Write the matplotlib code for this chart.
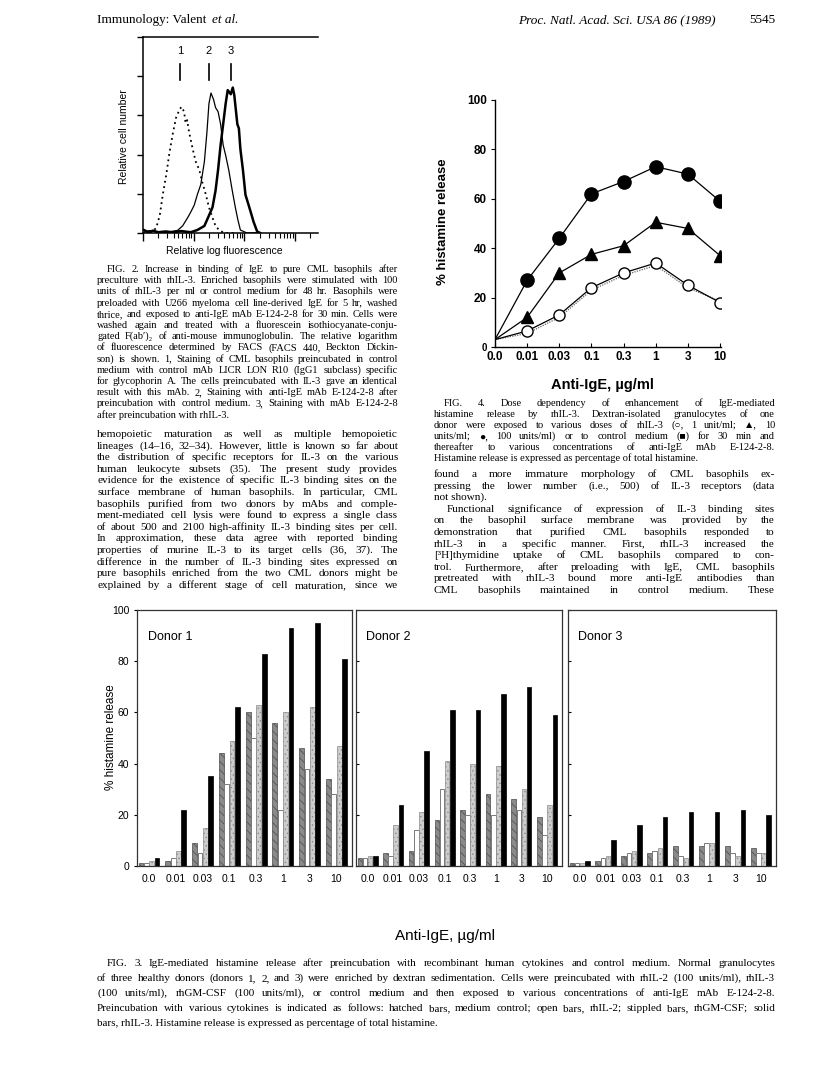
import math
import matplotlib
matplotlib.use('Agg')
import matplotlib.pyplot as plt

plt.rcParams['hatch.linewidth'] = 0.5

# ---------------- data ----------------
# Fig. 2 histograms (x = log decades of fluorescence, y = relative cell number)
c1_x = [0.03, 0.16, 0.26, 0.33, 0.39, 0.46, 0.52, 0.59, 0.65, 0.72, 0.76, 0.81, 0.84, 0.87, 0.91,
        0.98, 1.04, 1.11, 1.17, 1.24, 1.30, 1.37, 1.43, 1.50, 1.60, 1.79]
c1_y = [1, 0.4, 2.5, 9, 19.5, 30, 40.7, 51, 58.7, 63, 64.4, 61.9, 56, 57.6, 51.3,
        42.8, 36.4, 32.2, 25.8, 19.5, 13.1, 7.8, 3.6, 1.5, 0, 0]
c2_x = [0.03, 0.12, 0.23, 0.35, 0.49, 0.6, 0.68, 0.78, 0.88, 0.94, 1.01, 1.07, 1.14, 1.21, 1.26,
        1.30, 1.34, 1.39, 1.43, 1.48, 1.53, 1.58, 1.63, 1.69, 1.76, 1.82, 1.87, 1.92, 2.05, 2.31]
c2_y = [0.4, 1.2, 0.8, 0.3, 0.4, 1.0, 1.3, 3.6, 7.8, 10.6, 14.2, 19.5, 24.8, 36.4, 51.3,
        66, 71.4, 68.2, 64, 61.9, 55.5, 44.9, 39.6, 32.2, 21.6, 13.1, 6.8, 1.5, 0, 0.2]
c3_x = [0.02, 0.1, 0.2, 0.3, 0.45, 0.6, 0.75, 0.94, 1.07, 1.21, 1.30, 1.37, 1.43, 1.48, 1.53,
        1.58, 1.63, 1.67, 1.73, 1.77, 1.80, 1.86, 1.89, 1.92, 1.97, 2.02, 2.07, 2.12, 2.18, 2.25, 2.31]
c3_y = [1.5, 0.5, 1.2, 0.4, 0.8, 0.3, 1.0, 0.4, 1.5, 3.6, 8.9, 13.1, 21.6, 32.2, 44.9,
        55.5, 66.1, 72.9, 70.8, 74.2, 70.3, 55.5, 53.4, 42.8, 32.2, 19.5, 15.3, 11, 5.7, 0.8, 0]
peak_x = [0.73, 1.30, 1.73]
peak_names = ['1', '2', '3']

# Fig. 4 dose dependency
conc = ['0.0', '0.01', '0.03', '0.1', '0.3', '1', '3', '10']
il3_100 = [3, 27, 44, 62, 67, 73, 70, 59]
il3_10 = [3, 12, 30, 37.5, 41, 50.5, 48, 37]
il3_1 = [3, 6.5, 13, 24, 30, 34, 25, 18]
control = [3, 5.5, 12, 23, 29, 33, 24, 18.5]

# Fig. 3 bars: hatched (medium), open (rhIL-2), stippled (rhGM-CSF), solid (rhIL-3)
d1_hatched = [1, 2, 9, 44, 60, 56, 46, 34]
d1_open = [1, 3, 5, 32, 50, 22, 38, 28]
d1_stippled = [2, 6, 15, 49, 63, 60, 62, 47]
d1_solid = [3, 22, 35, 62, 83, 93, 95, 81]
d2_hatched = [3, 5, 6, 18, 22, 28, 26, 19]
d2_open = [3, 4, 14, 30, 20, 20, 22, 12]
d2_stippled = [4, 16, 21, 41, 40, 39, 30, 24]
d2_solid = [4, 24, 45, 61, 61, 67, 70, 59]
d3_hatched = [1, 2, 4, 5, 8, 8, 8, 7]
d3_open = [1, 3, 5, 6, 4, 9, 5, 5]
d3_stippled = [1, 4, 6, 7, 3, 9, 4, 5]
d3_solid = [2, 10, 16, 19, 21, 21, 22, 20]
donors = ['Donor 1', 'Donor 2', 'Donor 3']

# ---------------- page setup ----------------
W, H = 816, 1070
fig = plt.figure(figsize=(W / 100, H / 100), dpi=100)
fig.patch.set_facecolor('white')
R = fig.canvas.get_renderer()
SERIF = ['Liberation Serif', 'DejaVu Serif', 'DejaVu Sans']
SANS = ['Liberation Sans', 'DejaVu Sans']


def fx(x):
    return x / W


def fy(y):
    return 1 - y / H


def axes_px(x0, y0, x1, y1):
    return fig.add_axes([x0 / W, 1 - y1 / H, (x1 - x0) / W, (y1 - y0) / H])


def T(x, y, s, **kw):
    kw.setdefault('family', SERIF)
    kw.setdefault('va', 'baseline')
    return fig.text(fx(x), fy(y), s, **kw)


def para(lines, x0, x1, y0, dy, size, ends=(), indents=None):
    indents = indents or {}
    for i, line in enumerate(lines):
        y = y0 + i * dy
        ind = indents.get(i, 0)
        words = line.split()
        if i in ends or len(words) < 2:
            T(x0 + ind, y, line, fontsize=size)
            continue
        fs = size
        objs = [T(0, y, w, fontsize=fs) for w in words]
        ws = [o.get_window_extent(R).width for o in objs]
        avail = x1 - x0 - ind
        if sum(ws) + 2.0 * (len(words) - 1) > avail:
            fs = size * (avail - 2.0 * (len(words) - 1)) / sum(ws)
            for o in objs:
                o.set_fontsize(fs)
            ws = [o.get_window_extent(R).width for o in objs]
        gap = (avail - sum(ws)) / (len(words) - 1)
        x = x0 + ind
        for o, w in zip(objs, ws):
            o.set_x(fx(x))
            x += w + gap


# ---------------- header ----------------
h1 = T(97, 23, 'Immunology: Valent ', fontsize=9.5)
T(97 + h1.get_window_extent(R).width + 2, 23, 'et al.', fontsize=9.5, style='italic')
T(716, 23, 'Proc. Natl. Acad. Sci. USA 86 (1989)', fontsize=9.5, style='italic', ha='right')
T(775, 23, '5545', fontsize=9.5, ha='right')

# ---------------- Fig. 2 ----------------
ax2 = axes_px(143, 37, 318, 233)
ax2.plot(c1_x, c1_y, color='black', lw=1.3, ls=(0, (1, 2)))
ax2.plot(c2_x, c2_y, color='black', lw=0.9)
ax2.plot(c3_x, c3_y, color='black', lw=1.8)
for px, nm in zip(peak_x, peak_names):
    ax2.text(px, 93, nm, ha='center', va='center', fontsize=8, family=SANS)
    ax2.plot([px, px], [78, 86], color='black', lw=1.2)
ax2.set_xlim(0, 3.45)
ax2.set_ylim(0, 100)
ax2.spines['right'].set_visible(False)
ax2.set_yticks([0, 20, 40, 60, 80, 100])
ax2.set_yticklabels([])
ax2.set_xticks([0, 1, 2, 3])
ax2.set_xticklabels([])
minor = [d + math.log10(k) for d in range(4) for k in range(2, 10) if d + math.log10(k) < 3.45]
ax2.set_xticks(minor, minor=True)
ax2.tick_params(axis='x', which='major', length=6, width=1, direction='out')
ax2.tick_params(axis='x', which='minor', length=3.5, width=0.8, direction='out')
ax2.tick_params(axis='y', length=4, width=1, direction='out')
for s in ax2.spines.values():
    s.set_linewidth(1.1)
T(224, 254, 'Relative log fluorescence', fontsize=7.5, family=SANS, ha='center')
T(124, 137, 'Relative cell number', fontsize=7.5, family=SANS, ha='center', va='center',
  rotation=90)

# Fig. 2 caption
cap2 = [
    "FIG. 2.   Increase in binding of IgE to pure CML basophils after",
    "preculture with rhIL-3. Enriched basophils were stimulated with 100",
    "units of rhIL-3 per ml or control medium for 48 hr. Basophils were",
    "preloaded with U266 myeloma cell line-derived IgE for 5 hr, washed",
    "thrice, and exposed to anti-IgE mAb E-124-2-8 for 30 min. Cells were",
    "washed again and treated with a fluorescein isothiocyanate-conju-",
    "gated F(ab′)₂ of anti-mouse immunoglobulin. The relative logarithm",
    "of fluorescence determined by FACS (FACS 440, Beckton Dickin-",
    "son) is shown. 1, Staining of CML basophils preincubated in control",
    "medium with control mAb LICR LON R10 (IgG1 subclass) specific",
    "for glycophorin A. The cells preincubated with IL-3 gave an identical",
    "result with this mAb. 2, Staining with anti-IgE mAb E-124-2-8 after",
    "preincubation with control medium. 3, Staining with mAb E-124-2-8",
    "after preincubation with rhIL-3.",
]
para(cap2, 97, 398, 272, 11.2, 7.5, ends={13}, indents={0: 10})

body_left = [
    "hemopoietic maturation as well as multiple hemopoietic",
    "lineages (14–16, 32–34). However, little is known so far about",
    "the distribution of specific receptors for IL-3 on the various",
    "human leukocyte subsets (35). The present study provides",
    "evidence for the existence of specific IL-3 binding sites on the",
    "surface membrane of human basophils. In particular, CML",
    "basophils purified from two donors by mAbs and comple-",
    "ment-mediated cell lysis were found to express a single class",
    "of about 500 and 2100 high-affinity IL-3 binding sites per cell.",
    "In approximation, these data agree with reported binding",
    "properties of murine IL-3 to its target cells (36, 37). The",
    "difference in the number of IL-3 binding sites expressed on",
    "pure basophils enriched from the two CML donors might be",
    "explained by a different stage of cell maturation, since we",
]
para(body_left, 97, 398, 437, 11.6, 8.1)

# ---------------- Fig. 4 ----------------
ax4 = axes_px(495, 100, 721, 347)
xs = list(range(len(conc)))
ax4.plot(xs, control, color='#666666', lw=0.9, ls=(0, (1, 1)))
ax4.plot(xs, il3_1, color='black', lw=0.9, marker='o', ms=8, mfc='white', mec='black',
         mew=1.0, markevery=list(range(1, 8)))
ax4.plot(xs, il3_10, color='black', lw=0.9, marker='^', ms=8.5, mfc='black', mec='black',
         markevery=list(range(1, 8)))
ax4.plot(xs, il3_100, color='black', lw=0.9, marker='o', ms=9.5, mfc='black', mec='black',
         markevery=list(range(1, 8)))
ax4.set_xlim(0, 7.03)
ax4.set_ylim(0, 100)
ax4.spines['right'].set_visible(False)
ax4.spines['top'].set_visible(False)
ax4.set_yticks([0, 20, 40, 60, 80, 100])
ax4.set_yticklabels(['0', '20', '40', '60', '80', '100'], fontsize=8.5, family=SANS,
                    fontweight='bold')
ax4.get_yticklabels()[0].set_fontsize(7)
ax4.set_xticks(xs)
ax4.set_xticklabels(conc, fontsize=8.5, family=SANS, fontweight='bold')
ax4.tick_params(axis='x', direction='in', length=3, width=0.8, pad=3)
ax4.tick_params(axis='y', direction='out', length=3, width=0.8, pad=3)
for s in ax4.spines.values():
    s.set_linewidth(1.0)
T(443, 222, '% histamine release', fontsize=9.5, family=SANS, fontweight='bold',
  rotation=90, ha='center', va='center')
T(602, 389, 'Anti-IgE, µg/ml', fontsize=10.5, family=SANS, fontweight='bold', ha='center')

cap4 = [
    "FIG. 4.   Dose dependency of enhancement of IgE-mediated",
    "histamine release by rhIL-3. Dextran-isolated granulocytes of one",
    "donor were exposed to various doses of rhIL-3 (○, 1 unit/ml; ▲, 10",
    "units/ml; ●, 100 units/ml) or to control medium (■) for 30 min and",
    "thereafter to various concentrations of anti-IgE mAb E-124-2-8.",
    "Histamine release is expressed as percentage of total histamine.",
]
para(cap4, 434, 775, 406, 11.0, 7.5, ends={5}, indents={0: 10})

body_right = [
    "found a more immature morphology of CML basophils ex-",
    "pressing the lower number (i.e., 500) of IL-3 receptors (data",
    "not shown).",
    "Functional significance of expression of IL-3 binding sites",
    "on the basophil surface membrane was provided by the",
    "demonstration that purified CML basophils responded to",
    "rhIL-3 in a specific manner. First, rhIL-3 increased the",
    "[³H]thymidine uptake of CML basophils compared to con-",
    "trol. Furthermore, after preloading with IgE, CML basophils",
    "pretreated with rhIL-3 bound more anti-IgE antibodies than",
    "CML basophils maintained in control medium. These",
]
para(body_right, 434, 775, 477, 11.6, 8.1, ends={2}, indents={3: 13})

# ---------------- Fig. 3 ----------------
panel_x = [(137, 352), (356, 562), (568, 776)]
series = [
    (d1_hatched, d1_open, d1_stippled, d1_solid),
    (d2_hatched, d2_open, d2_stippled, d2_solid),
    (d3_hatched, d3_open, d3_stippled, d3_solid),
]
styles = [
    dict(color='#8a8a8a', edgecolor='#4a4a4a', hatch='\\\\\\\\', linewidth=0.5),
    dict(color='white', edgecolor='#7a7a7a', linewidth=0.7),
    dict(color='#cdcdcd', edgecolor='#8a8a8a', hatch='....', linewidth=0.5),
    dict(color='black', edgecolor='black', linewidth=0.5),
]
offsets = [-0.3, -0.1, 0.1, 0.3]
bw = 0.18
for p, ((x0, x1), vals, name) in enumerate(zip(panel_x, series, donors)):
    ax = axes_px(x0, 610, x1, 866)
    for off, v, st in zip(offsets, vals, styles):
        ax.bar([i + off for i in xs], v, width=bw, **st)
    ax.set_xlim(-0.45, 7.58)
    ax.set_ylim(0, 100)
    ax.set_xticks(xs)
    ax.set_xticklabels(conc, fontsize=7.5, family=SANS)
    ax.tick_params(axis='x', length=0, pad=6)
    ax.set_yticks([0, 20, 40, 60, 80, 100])
    if p == 0:
        ax.set_yticklabels(['0', '20', '40', '60', '80', '100'], fontsize=7.5, family=SANS)
        ax.tick_params(axis='y', direction='out', length=2.5, width=0.8, pad=3)
    else:
        ax.set_yticklabels([])
        ax.tick_params(axis='y', direction='in', length=2.5, width=0.8)
    for s in ax.spines.values():
        s.set_linewidth(0.9)
        s.set_color('#333333')
    ax.text(0.05, 0.895, name, transform=ax.transAxes, fontsize=9, family=SANS,
            va='center', ha='left')

T(111, 737, '% histamine release', fontsize=8.5, family=SANS, rotation=90,
  ha='center', va='center')
T(445, 940, 'Anti-IgE, µg/ml', fontsize=11, family=SANS, ha='center')

cap3 = [
    "FIG. 3.   IgE-mediated histamine release after preincubation with recombinant human cytokines and control medium. Normal granulocytes",
    "of three healthy donors (donors 1, 2, and 3) were enriched by dextran sedimentation. Cells were preincubated with rhIL-2 (100 units/ml), rhIL-3",
    "(100 units/ml), rhGM-CSF (100 units/ml), or control medium and then exposed to various concentrations of anti-IgE mAb E-124-2-8.",
    "Preincubation with various cytokines is indicated as follows: hatched bars, medium control; open bars, rhIL-2; stippled bars, rhGM-CSF; solid",
    "bars, rhIL-3. Histamine release is expressed as percentage of total histamine.",
]
para(cap3, 97, 775, 966, 15.0, 8.0, ends={4}, indents={0: 10})

fig.savefig('out.png', dpi=100, facecolor='white')
